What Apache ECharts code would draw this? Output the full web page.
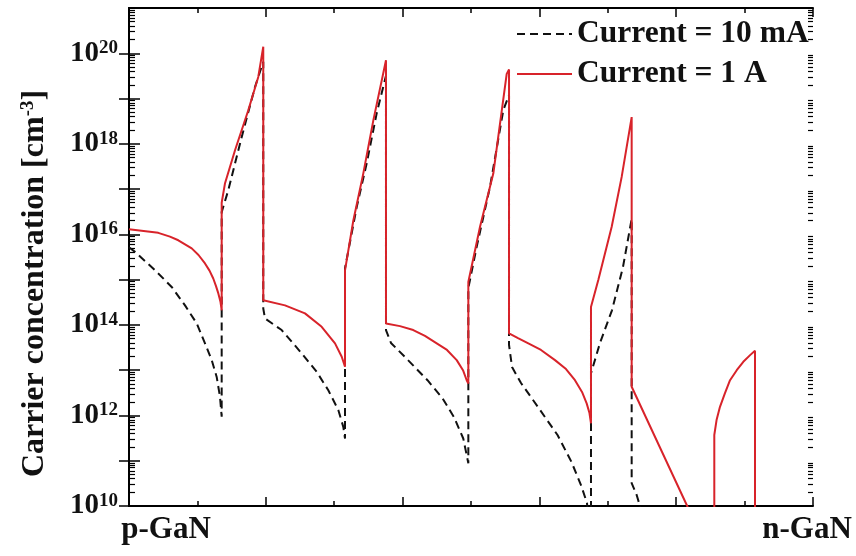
<!DOCTYPE html>
<html>
<head>
<meta charset="utf-8">
<script src="https://cdn.jsdelivr.net/npm/echarts@6/dist/echarts.min.js"></script>
<style>
  html, body { margin: 0; padding: 0; background: #fff; }
  #chart { width: 856px; height: 556px; }
</style>
</head>
<body>
<div id="chart"></div>
<script>
// Carrier concentration across the device stack, p-GaN (left) to n-GaN (right).
const seriesNames = ['Current = 10 mA', 'Current = 1 A'];

// Position along the structure (arbitrary units, 0..10) and concentration [cm^-3]
const pos10mA = [
  0, 0.088, 0.38, 0.624, 0.819, 0.99, 1.111, 1.209, 1.282, 1.33, 1.355,
  1.355, 1.452, 1.648, 1.842, 1.963,
  1.963, 1.988, 2.232, 2.525, 2.744, 2.914, 3.06, 3.133, 3.158,
  3.158, 3.329, 3.475, 3.621, 3.757,
  3.757, 3.83, 4.079, 4.364, 4.583, 4.751, 4.887, 4.961,
  4.961, 5.083, 5.278, 5.472, 5.556,
  5.556, 5.6, 5.731, 5.98, 6.265, 6.469, 6.608, 6.696, 6.754,
  6.754, 6.886, 7.061, 7.222, 7.349,
  7.349, 7.422, 7.47, 7.55
];
const conc10mA = [
  5.2e15, 4.1e15, 1.62e15, 6.9e14, 2.7e14, 1.08e14, 3.9e13, 1.67e13, 7.1e12, 2.6e12, 9.4e11,
  3.1e16, 9.5e16, 1.42e18, 1.8e19, 6.5e19,
  2.3e14, 1.39e14, 7.7e13, 2.35e13, 9.2e12, 3.6e12, 1.32e12, 5.6e11, 3.1e11,
  1.8e15, 4.0e16, 3.7e17, 4.7e18, 3.2e19,
  7.7e13, 4.0e13, 1.67e13, 6.0e12, 2.4e12, 9.2e11, 3.1e11, 8.8e10,
  6.5e14, 5.3e15, 1.12e17, 5.5e18, 1.2e19,
  3.6e13, 1.17e13, 5.2e12, 1.53e12, 3.7e11, 9.4e10, 2.9e10, 1.16e10, 1e9,
  8.5e12, 4.0e13, 2.1e14, 1.9e15, 2.2e16,
  3.2e10, 1.75e10, 1e10, 1e9
];

const pos1A = [
  0, 0.428, 0.599, 0.721, 0.917, 1.016, 1.111, 1.177, 1.232, 1.272, 1.306, 1.338, 1.355,
  1.355, 1.404, 1.55, 1.744, 1.89, 1.963,
  1.963, 2.281, 2.573, 2.817, 3.012, 3.11, 3.158,
  3.158, 3.279, 3.425, 3.572, 3.757,
  3.757, 3.962, 4.156, 4.327, 4.499, 4.649, 4.791, 4.883, 4.937, 4.961,
  4.961, 5.132, 5.326, 5.522, 5.556,
  5.556, 5.687, 5.838, 6.023, 6.228, 6.389, 6.52, 6.623, 6.691, 6.732, 6.754,
  6.754, 6.861, 7.057, 7.203, 7.349,
  7.349, 8.154, 8.468, 8.557,
  8.557, 8.59, 8.64, 8.713, 8.787, 8.885, 8.981, 9.08, 9.152, 9.152
];
const conc1A = [
  1.3e16, 1.08e16, 8.9e15, 7.4e15, 4.9e15, 3.5e15, 2.28e15, 1.58e15, 1.06e15, 7.2e14, 4.96e14, 3.2e14, 2.1e14,
  5.0e16, 1.35e17, 7.2e17, 5.5e18, 3.0e19, 1.4e20,
  3.5e14, 2.7e14, 1.8e14, 9.1e13, 3.9e13, 1.98e13, 1.19e13,
  1.6e15, 2.0e16, 2.2e17, 3.3e18, 7.0e19,
  1.08e14, 9.4e13, 7.7e13, 5.7e13, 3.9e13, 2.8e13, 1.67e13, 1.0e13, 6.0e12, 5.1e12,
  8.9e14, 1.47e16, 2.2e17, 3.5e19, 4.4e19,
  6.5e13, 5.1e13, 3.9e13, 2.8e13, 1.67e13, 1.06e13, 6.0e12, 3.3e12, 1.85e12, 1.13e12, 6.7e11,
  2.5e14, 9.8e14, 1.47e16, 1.86e17, 3.9e18,
  4.3e12, 1.05e10, 1e9, 1e9,
  3.7e11, 7.9e11, 1.55e12, 3.1e12, 6.0e12, 1.0e13, 1.53e13, 2.15e13, 2.7e13, 1e9
];

// Axis text
const xEndLabels = ['p-GaN', 'n-GaN'];
const yLabelExponents = [10, 12, 14, 16, 18, 20];
const yMinExp = 10;
const yMaxExp = 21;

const FONT = "'Liberation Serif', 'Times New Roman', serif";
const INK = '#111';
const RED = '#d8232a';

// decade ticks (concentration) and 2..9 sub-ticks expressed as exponents
const decadeTicks = [];
const subTickExps = [];
for (let e = yMinExp; e <= yMaxExp; e++) {
  decadeTicks.push(Math.pow(10, e));
  if (e < yMaxExp) {
    for (let k = 2; k <= 9; k++) subTickExps.push(e + Math.log10(k));
  }
}

const plotRect = { left: 129, right: 43, top: 8, bottom: 50, containLabel: false, outerBoundsMode: 'none' };

function logAxis(position, tickLen, extra) {
  return Object.assign({
    type: 'log',
    gridIndex: 0,
    logBase: 10,
    min: Math.pow(10, yMinExp),
    max: Math.pow(10, yMaxExp),
    position: position,
    axisLine: { show: true, lineStyle: { color: '#000', width: 2 } },
    axisTick: { show: true, inside: true, length: tickLen, customValues: decadeTicks,
                lineStyle: { color: '#000', width: 1.5 } },
    axisLabel: { show: false },
    splitLine: { show: false }
  }, extra || {});
}

// exponent-space axis on an overlaid grid, carrying only the short sub-decade ticks
function subTickAxis(position, len) {
  return {
    type: 'value',
    gridIndex: 1,
    min: yMinExp,
    max: yMaxExp,
    position: position,
    offset: 0,
    axisLine: { show: false },
    axisTick: { show: true, inside: true, length: len, customValues: subTickExps,
                lineStyle: { color: '#000', width: 1.2 } },
    axisLabel: { show: false },
    splitLine: { show: false }
  };
}

function linAxis(position, withLabels) {
  return {
    type: 'value',
    gridIndex: 0,
    min: 0,
    max: 10,
    interval: 2,
    position: position,
    axisLine: { show: true, lineStyle: { color: '#000', width: 2 } },
    axisTick: { show: true, inside: true, length: 9, lineStyle: { color: '#000', width: 1.5 } },
    minorTick: { show: true, splitNumber: 2, length: 5, lineStyle: { color: '#000', width: 1.5 } },
    splitLine: { show: false },
    minorSplitLine: { show: false },
    axisLabel: withLabels ? {
      show: true,
      customValues: [0, 10],
      margin: 8,
      formatter: v => (v === 0 ? '{p|' + xEndLabels[0] + '}' : '{n|' + xEndLabels[1] + '}'),
      rich: {
        p: { fontFamily: FONT, fontWeight: 'bold', fontSize: 31, color: INK, padding: [0, 0, 0, 74] },
        n: { fontFamily: FONT, fontWeight: 'bold', fontSize: 31, color: INK, padding: [0, 12, 0, 0] }
      }
    } : { show: false }
  };
}

const chart = echarts.init(document.getElementById('chart'), null, { renderer: 'canvas' });

chart.setOption({
  animation: false,
  backgroundColor: '#fff',
  grid: [Object.assign({}, plotRect), Object.assign({}, plotRect)],
  legend: {
    data: seriesNames,
    orient: 'vertical',
    left: 516,
    top: 18,
    padding: 0,
    itemWidth: 55,
    itemHeight: 14,
    itemGap: 8,
    selectedMode: false,
    itemStyle: { opacity: 0, borderWidth: 0 },
    textStyle: { fontFamily: FONT, fontWeight: 'bold', fontSize: 31.5, lineHeight: 30, color: INK }
  },
  xAxis: [
    linAxis('bottom', true),
    linAxis('top', false),
    { type: 'value', gridIndex: 1, min: 0, max: 10, show: false }
  ],
  yAxis: [
    logAxis('left', 11, {
      name: '{a|Carrier concentration [cm}{s|-3}{a|]}',
      nameLocation: 'middle',
      nameRotate: 90,
      nameGap: 78,
      nameTextStyle: {
        padding: [0, 53, 0, 0],
        rich: {
          a: { fontFamily: FONT, fontWeight: 'bold', fontSize: 32, color: INK },
          s: { fontFamily: FONT, fontWeight: 'bold', fontSize: 19, color: INK, verticalAlign: 'top' }
        }
      },
      axisLabel: {
        show: true,
        customValues: yLabelExponents.map(e => Math.pow(10, e)),
        margin: 11,
        formatter: v => '{b|10}{e|' + Math.round(Math.log10(v)) + '}',
        rich: {
          b: { fontFamily: FONT, fontWeight: 'bold', fontSize: 29, color: INK },
          e: { fontFamily: FONT, fontWeight: 'bold', fontSize: 19, color: INK, verticalAlign: 'top' }
        }
      }
    }),
    logAxis('right', 10),
    subTickAxis('left', 6),
    subTickAxis('right', 5)
  ],
  series: [
    {
      name: seriesNames[0],
      type: 'line',
      xAxisIndex: 0,
      yAxisIndex: 0,
      data: pos10mA.map((x, i) => [x, conc10mA[i]]),
      symbol: 'none',
      showSymbol: false,
      clip: true,
      lineStyle: { color: INK, width: 2, type: [8, 5] },
      itemStyle: { color: INK }
    },
    {
      name: seriesNames[1],
      type: 'line',
      xAxisIndex: 0,
      yAxisIndex: 0,
      data: pos1A.map((x, i) => [x, conc1A[i]]),
      symbol: 'none',
      showSymbol: false,
      clip: true,
      lineStyle: { color: RED, width: 2 },
      itemStyle: { color: RED }
    }
  ]
});
</script>
</body>
</html>
